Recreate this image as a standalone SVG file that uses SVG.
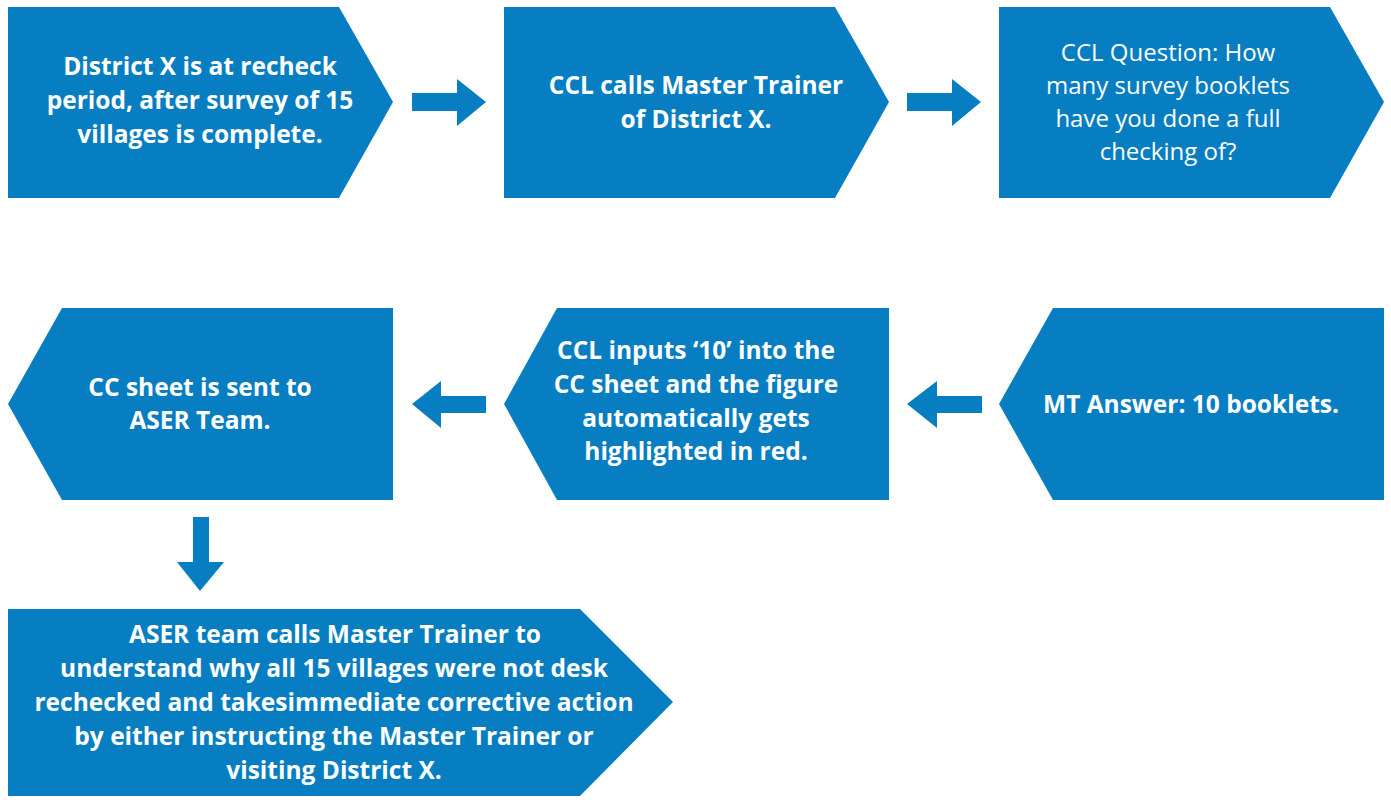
<svg xmlns="http://www.w3.org/2000/svg" width="1391" height="800" viewBox="0 0 1391 800">
<style>
.box{fill:#077EC1}
.arr{fill:#077EC1}
text{font-family:"Open Sans","Noto Sans","Liberation Sans",sans-serif;font-size:24.5px;fill:#ffffff;text-anchor:middle}
.b{font-weight:700}
.r{font-weight:400;font-size:24px}
</style>
<rect width="1391" height="800" fill="#ffffff"/>
<g id="connectors">
<polygon class="arr" points="412,93 457,93 457,79 486,102 457,126 457,111 412,111"/>
<polygon class="arr" points="907,93 952,93 952,79 981,102 952,126 952,111 907,111"/>
<polygon class="arr" points="982,396 937,396 937,381 907,404 937,428 937,413 982,413"/>
<polygon class="arr" points="486,396 441,396 441,381 412,404 441,428 441,413 486,413"/>
<polygon class="arr" points="193,517 209,517 209,562 224,562 200,591 177,562 193,562"/>
</g>
<g id="n1">
<polygon class="box" points="8,7 339,7 393,102 339,198 8,198"/>
<text class="b"><tspan x="200" y="75">District X is at recheck</tspan><tspan x="200" y="109">period, after survey of 15</tspan><tspan x="200" y="143">villages is complete.</tspan></text>
</g>
<g id="n2">
<polygon class="box" points="504,7 835,7 889,102 835,198 504,198"/>
<text class="b"><tspan x="696" y="94">CCL calls Master Trainer</tspan><tspan x="696" y="128">of District X.</tspan></text>
</g>
<g id="n3">
<polygon class="box" points="999,7 1330,7 1384,102 1330,198 999,198"/>
<text class="r"><tspan x="1168" y="61">CCL Question: How</tspan><tspan x="1168" y="94">many survey booklets</tspan><tspan x="1168" y="127">have you done a full</tspan><tspan x="1168" y="160">checking of?</tspan></text>
</g>
<g id="n6">
<polygon class="box" points="1053,308 1384,308 1384,500 1053,500 999,404"/>
<text class="b"><tspan x="1191" y="413">MT Answer: 10 booklets.</tspan></text>
</g>
<g id="n5">
<polygon class="box" points="557,308 889,308 889,500 557,500 504,404"/>
<text class="b"><tspan x="696" y="359">CCL inputs ‘10’ into the</tspan><tspan x="696" y="393">CC sheet and the figure</tspan><tspan x="696" y="427">automatically gets</tspan><tspan x="696" y="460">highlighted in red.</tspan></text>
</g>
<g id="n4">
<polygon class="box" points="62,308 393,308 393,500 62,500 8,404"/>
<text class="b"><tspan x="200" y="396">CC sheet is sent to</tspan><tspan x="200" y="429">ASER Team.</tspan></text>
</g>
<g id="n7">
<polygon class="box" points="8,609 580,609 673,702 580,796 8,796"/>
<text class="b"><tspan x="335" y="643">ASER team calls Master Trainer to</tspan><tspan x="334" y="677">understand why all 15 villages were not desk</tspan><tspan x="334" y="711">rechecked and takesimmediate corrective action</tspan><tspan x="334" y="745">by either instructing the Master Trainer or</tspan><tspan x="334" y="779">visiting District X.</tspan></text>
</g>
</svg>
